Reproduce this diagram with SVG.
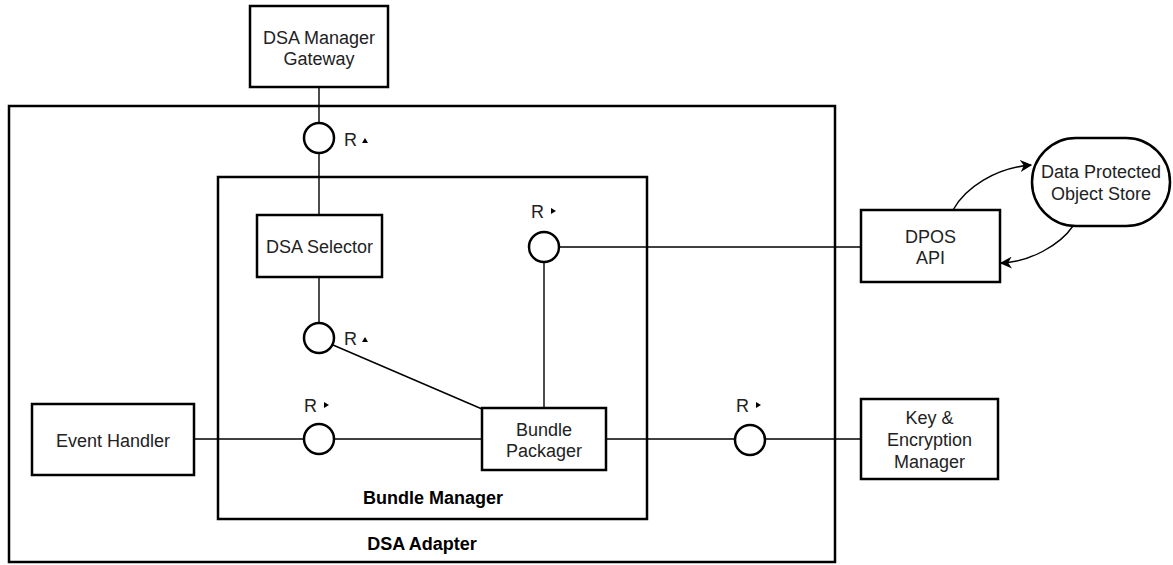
<svg xmlns="http://www.w3.org/2000/svg" width="1173" height="565" viewBox="0 0 1173 565">
<defs>
<style>
.box{fill:#fff;stroke:#000;stroke-width:2.5}
.frame{fill:none;stroke:#000;stroke-width:2.5}
.ln{fill:none;stroke:#000;stroke-width:1.4}
.port{fill:#fff;stroke:#000;stroke-width:2.5}
.t{font-family:"Liberation Sans",Arial,sans-serif;font-size:18px;fill:#222;text-anchor:middle}
.b{font-family:"Liberation Sans",Arial,sans-serif;font-size:18px;font-weight:bold;fill:#000;text-anchor:middle}
.r{font-family:"Liberation Sans",Arial,sans-serif;font-size:18px;fill:#222}
</style>
<marker id="ah" viewBox="0 0 10 10" refX="9" refY="5" markerWidth="12" markerHeight="12" markerUnits="userSpaceOnUse" orient="auto"><path d="M0,0 L10,5 L0,10 L3,5 Z" fill="#000"/></marker>
</defs>
<g id="dsa-adapter">
<rect class="frame" x="9" y="106" width="826" height="456"/>
<text class="b" x="422" y="550">DSA Adapter</text>
</g>
<g id="bundle-manager">
<rect class="frame" x="218" y="177" width="429" height="342"/>
<text class="b" x="433" y="504">Bundle Manager</text>
</g>
<g id="connectors">
<line class="ln" x1="319" y1="87" x2="319" y2="215"/>
<line class="ln" x1="319" y1="277" x2="319" y2="338"/>
<line class="ln" x1="333" y1="345" x2="482" y2="409"/>
<line class="ln" x1="544" y1="247" x2="861" y2="247"/>
<line class="ln" x1="544" y1="247" x2="544" y2="408"/>
<line class="ln" x1="194" y1="439" x2="482" y2="439"/>
<line class="ln" x1="606" y1="439" x2="861" y2="439"/>
<path class="ln" d="M953,210 C965,188 995,168 1031,165" marker-end="url(#ah)"/>
<path class="ln" d="M1073,226 C1060,245 1030,262 1001,263" marker-end="url(#ah)"/>
</g>
<g id="dsa-manager-gateway">
<rect class="box" x="250" y="6" width="138" height="81"/>
<text class="t" x="319" y="44">DSA Manager</text>
<text class="t" x="319" y="65">Gateway</text>
</g>
<g id="port-gateway">
<circle class="port" cx="319" cy="138" r="15"/>
<text class="r" x="344" y="146">R</text>
<path d="M365,138 L368,143 L362,143 Z" fill="#000"/>
</g>
<g id="dsa-selector">
<rect class="box" x="257" y="215" width="125" height="62"/>
<text class="t" x="319.500" y="253">DSA Selector</text>
</g>
<g id="port-selector">
<circle class="port" cx="319" cy="338" r="15"/>
<text class="r" x="344" y="345">R</text>
<path d="M365,337 L368,342 L362,342 Z" fill="#000"/>
</g>
<g id="port-dpos">
<circle class="port" cx="544" cy="247" r="15"/>
<text class="r" x="531" y="218">R</text>
<path d="M551,208 L556,211 L551,214 Z" fill="#000"/>
</g>
<g id="dpos-api">
<rect class="box" x="861" y="210" width="139" height="72"/>
<text class="t" x="930.500" y="243">DPOS</text>
<text class="t" x="930.500" y="264">API</text>
</g>
<g id="data-protected-object-store">
<rect class="box" x="1032" y="138" width="138" height="88" rx="44" ry="44"/>
<text class="t" x="1101" y="178">Data Protected</text>
<text class="t" x="1101" y="200">Object Store</text>
</g>
<g id="event-handler">
<rect class="box" x="32" y="404" width="162" height="71"/>
<text class="t" x="113" y="447">Event Handler</text>
</g>
<g id="port-event">
<circle class="port" cx="319" cy="439" r="15"/>
<text class="r" x="304" y="412">R</text>
<path d="M324,402 L329,405 L324,408 Z" fill="#000"/>
</g>
<g id="bundle-packager">
<rect class="box" x="482" y="408" width="124" height="62"/>
<text class="t" x="544" y="436">Bundle</text>
<text class="t" x="544" y="457">Packager</text>
</g>
<g id="port-key">
<circle class="port" cx="750" cy="440" r="15"/>
<text class="r" x="736" y="412">R</text>
<path d="M756,402 L761,405 L756,408 Z" fill="#000"/>
</g>
<g id="key-encryption-manager">
<rect class="box" x="861" y="399" width="137" height="80"/>
<text class="t" x="929.500" y="424">Key &amp;</text>
<text class="t" x="929.500" y="446">Encryption</text>
<text class="t" x="929.500" y="468">Manager</text>
</g>
</svg>
